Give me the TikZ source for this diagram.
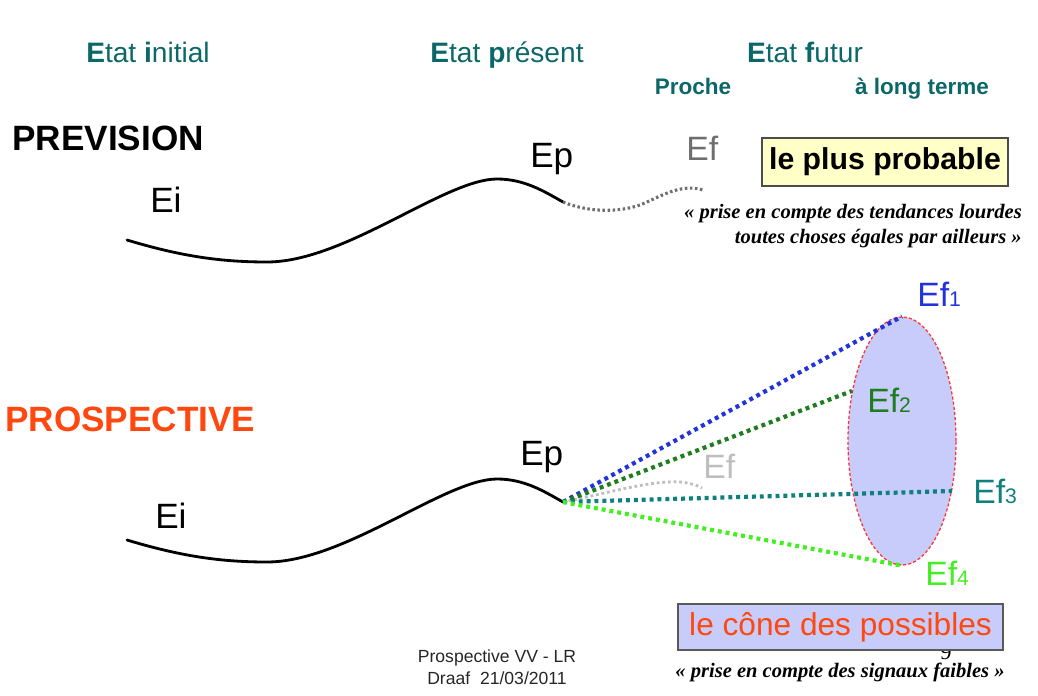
\documentclass[tikz,border=0pt]{standalone}
\usepackage{fontspec}
\setmainfont{Liberation Sans}
\newfontfamily\citefont{Liberation Serif}
\usetikzlibrary{shapes.geometric}

\definecolor{tealhead}{RGB}{12,104,104}
\definecolor{prospred}{RGB}{255,72,16}
\definecolor{efblue}{RGB}{34,51,221}
\definecolor{efgreen}{RGB}{30,125,30}
\definecolor{efteal}{RGB}{14,128,128}
\definecolor{eflime}{RGB}{68,238,34}
\definecolor{efgrey}{RGB}{110,110,110}
\definecolor{eflight}{RGB}{190,190,190}
\definecolor{boxyellow}{RGB}{255,255,200}
\definecolor{conefill}{RGB}{200,204,250}
\definecolor{conered}{RGB}{255,50,50}

\begin{document}
\begin{tikzpicture}[x=0.025cm,y=-0.025cm,
  every node/.style={inner sep=0pt},
  head/.style={text=tealhead, anchor=base, font=\fontsize{20}{24}\selectfont},
  subhead/.style={text=tealhead, anchor=base, font=\bfseries\fontsize{16}{19}\selectfont},
  etat/.style={anchor=base west, font=\fontsize{25}{30}\selectfont},
  ef/.style={anchor=base west, font=\fontsize{24}{28}\selectfont},
  cite/.style={font=\citefont\bfseries\itshape\fontsize{14.6}{17}\selectfont},
  trend/.style={line width=3pt, dash pattern=on 2.8pt off 2.8pt},
  curve/.style={line width=2pt, line cap=round}
]
\useasboundingbox (0,0) rectangle (1038,696);

% En-tetes
\node[head] (hinit) at (148,63) {\textbf{E}tat \textbf{i}nitial};
\node[head] (hpres) at (507,63) {\textbf{E}tat \textbf{p}résent};
\node[head] (hfut) at (805,63) {\textbf{E}tat \textbf{f}utur};
\node[subhead] (proche) at (693,95) {Proche};
\node[subhead] (long) at (922,95) {à long terme};

% Prevision
\node[anchor=base west, font=\bfseries\fontsize{25}{30}\selectfont] (prev) at (12,150) {PREVISION};
\node[etat] (eiA) at (150,212) {Ei};
\node[etat] (epA) at (530,167) {Ep};
\node[ef, text=efgrey] (efA) at (686,160) {Ef};
\coordinate (startA) at (127,240);
\coordinate (presA) at (563,202);
\coordinate (futA) at (703,190);
\draw[curve] (startA) .. controls (180,256) and (220,262) .. (267,262)
  .. controls (345,262) and (445,179) .. (497,179)
  .. controls (525,179) and (545,192) .. (presA);
\draw[efgrey, line width=2.2pt, dash pattern=on 1.8pt off 1.8pt]
  (presA) .. controls (590,213) and (620,212) .. (640,205)
  .. controls (660,197) and (680,183) .. (futA);

\node[draw=black!70, fill=boxyellow, line width=0.8pt, minimum width=6.15cm, minimum height=1.2cm,
  font=\bfseries\fontsize{21.5}{25}\selectfont] (probable) at (885,162) {le plus probable};
\node[cite, anchor=base east] (tend1) at (1022,218) {« prise en compte des tendances lourdes};
\node[cite, anchor=base east] (tend2) at (1022,243) {toutes choses égales par ailleurs »};

% Prospective
\node[anchor=base west, text=prospred, font=\bfseries\fontsize{25}{30}\selectfont] (prosp) at (5,431) {PROSPECTIVE};
\node[etat] (eiB) at (155,528) {Ei};
\node[etat] (epB) at (520,465) {Ep};
\coordinate (startB) at (127,540);
\coordinate (presB) at (563,502);
\coordinate (futB) at (702,488);
\draw[curve] (startB) .. controls (180,556) and (220,562) .. (267,562)
  .. controls (345,562) and (445,479) .. (497,479)
  .. controls (525,479) and (545,492) .. (presB);

% Cone des possibles
\node[ellipse, draw=conered, fill=conefill, line width=0.9pt, dash pattern=on 2.2pt off 1.5pt,
  minimum width=2.7cm, minimum height=6.2cm] (cone) at (902,441) {};
\draw[eflight, line width=2pt, dash pattern=on 2pt off 2pt]
  (presB) .. controls (600,495) and (650,480) .. (680,482)
  .. controls (690,483) and (697,485) .. (futB);
\node[ef, text=eflight] (efB) at (703,478) {Ef};
\draw[trend, efblue] (presB) -- (cone.north);
\draw[trend, efgreen] (presB) -- (cone.135);
\draw[trend, efteal] (presB) -- (cone.-45);
\draw[trend, eflime] (presB) -- (cone.south);
\node[ef, text=efblue] (ef1) at (917,306) {Ef{\fontsize{15}{18}\selectfont 1}};
\node[ef, text=efgreen] (ef2) at (867,412) {Ef{\fontsize{15}{18}\selectfont 2}};
\node[ef, text=efteal] (ef3) at (973,503) {Ef{\fontsize{15}{18}\selectfont 3}};
\node[ef, text=eflime] (ef4) at (925,585) {Ef{\fontsize{15}{18}\selectfont 4}};

% Pied de page
\node[anchor=base, font=\citefont\fontsize{16}{19}\selectfont] (page) at (946,659) {9};
\node[draw=black!65, fill=conefill, line width=0.8pt, minimum width=8.125cm, minimum height=1.15cm,
  text=prospred, font=\fontsize{22.5}{27}\selectfont] (possibles) at (840.5,627) {le cône des possibles};
\node[cite, anchor=base] (signaux) at (840,677) {« prise en compte des signaux faibles »};
\node[anchor=base, font=\fontsize{12.5}{15}\selectfont, text=black!85] (foot1) at (497,662) {Prospective VV - LR};
\node[anchor=base, font=\fontsize{12.5}{15}\selectfont, text=black!85] (foot2) at (497,684) {Draaf~~21/03/2011};
\end{tikzpicture}
\end{document}
